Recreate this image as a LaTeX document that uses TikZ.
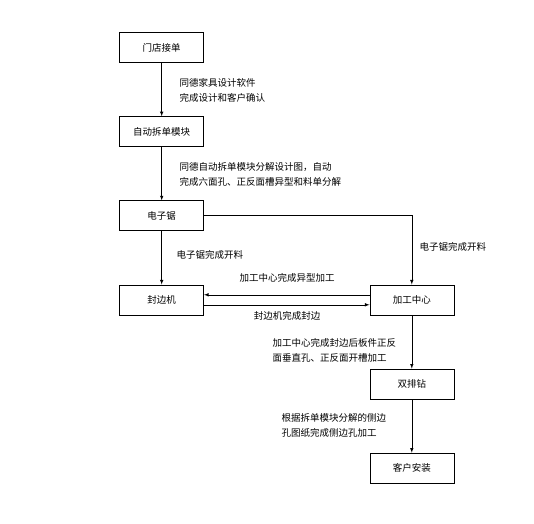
\documentclass[tikz,border=0pt]{standalone}
\usepackage{fontspec}
\newfontfamily\cjk{Noto Sans CJK SC}
\usetikzlibrary{calc,arrows,positioning,matrix}

\begin{document}
\begin{tikzpicture}[x=1pt,y=1pt,font=\cjk\fontsize{9.5}{15}\selectfont,line width=0.6pt]
    \useasboundingbox (0,0) rectangle (534,-523);
    \matrix (m) at (286.75,-257.75) [matrix of nodes, column sep=165.5pt, row sep=53.5pt, nodes={draw, minimum width=84pt, minimum height=30pt, anchor=center, inner sep=0pt}]{
    门店接单 & \\
    自动拆单模块 & \\
    电子锯 & \\
    封边机 & 加工中心 \\
     & 双排钻 \\
     & 客户安装 \\
    };

    \draw[-latex] (m-1-1)--(m-2-1);
    \draw[-latex] (m-2-1)--(m-3-1);
    \draw[-latex] (m-3-1)--(m-4-1);
    \draw[-latex] (m-3-1.east)-|(m-4-2.north);
    \draw[-latex] ([yshift=5pt]m-4-2.west)--([yshift=5pt]m-4-1.east);
    \draw[-latex] ([yshift=-5pt]m-4-1.east)--([yshift=-5pt]m-4-2.west);
    \draw[-latex] (m-4-2)--(m-5-2);
    \draw[-latex] (m-5-2)--(m-6-2);

    \node (t1) [anchor=west, align=left] at (176,-90.5) {同德家具设计软件\\完成设计和客户确认};
    \node (t2) [anchor=west, align=left] at (176,-174.5) {同德自动拆单模块分解设计图，自动\\完成六面孔、正反面槽异型和料单分解};
    \node (t3) [anchor=west] at (173,-255) {电子锯完成开料};
    \node (t4) [anchor=west] at (416,-247) {电子锯完成开料};
    \node (t5) at (287,-278) {加工中心完成异型加工};
    \node (t6) at (287,-316) {封边机完成封边};
    \node (t7) [anchor=west, align=left] at (269,-350) {加工中心完成封边后板件正反\\面垂直孔、正反面开槽加工};
    \node (t8) [anchor=west, align=left] at (278,-425) {根据拆单模块分解的侧边\\孔图纸完成侧边孔加工};

  \end{tikzpicture}
\end{document}
